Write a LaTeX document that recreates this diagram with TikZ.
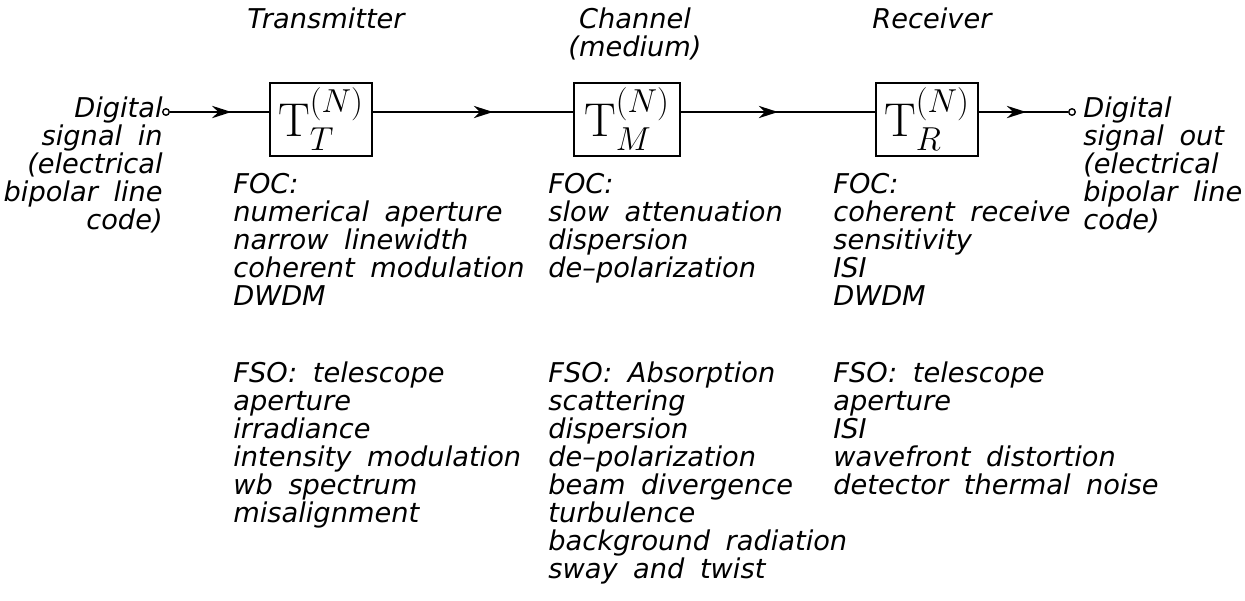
\documentclass[tikz,border=0pt]{standalone}
\usepackage{fix-cm}
\usepackage{amsmath}
\usepackage[no-math]{fontspec}
\newfontfamily\cadfont{DejaVu Sans}[WordSpace=1.8,ItalicFont={DejaVu Sans Oblique}]
\usetikzlibrary{arrows.meta,decorations.markings}
\newcommand{\tfun}[1]{\fontsize{27}{30}\selectfont$\mathrm{T}_{#1}^{(N)}$}

\tikzset{
  blk/.style={draw,line width=1.1pt,minimum width=2.04cm,minimum height=1.46cm,inner sep=0pt,text depth=0.3cm},
  lbl/.style={font=\cadfont\itshape\fontsize{15.5}{15.94}\selectfont,inner sep=0pt},
  sig/.style={line width=1.1pt},
  midarrow/.style={postaction={decorate},decoration={markings,mark=at position #1 with {\arrow{Stealth[length=11pt,width=7pt]}}}},
  port/.style={circle,draw,line width=0.8pt,fill=white,inner sep=0pt,minimum size=0.13cm}
}

\begin{document}
\begin{tikzpicture}[x=0.02cm,y=-0.02cm]
    \useasboundingbox (0,0) rectangle (1245,600);
    % blocks
    \node[blk] (tx) at (321,119.5) {\tfun{T}};
    \node[blk,minimum width=2.12cm] (ch) at (627,119.5) {\tfun{M}};
    \node[blk] (rx) at (927,119.5) {\tfun{R}};

    % signal path
    \node[port] (in) at (166,112) {};
    \node[port] (out) at (1072,112) {};
    \draw[sig,midarrow=0.62] (in) -- (in -| tx.west);
    \draw[sig,midarrow=0.6] (in -| tx.east) -- (in -| ch.west);
    \draw[sig,midarrow=0.5] (in -| ch.east) -- (in -| rx.west);
    \draw[sig,midarrow=0.53] (in -| rx.east) -- (out);

    % headings
    \node[lbl,anchor=base] (txhead) at (326,28) {Transmitter};
    \node[lbl,anchor=north,align=center] (chhead) at (635,7) {Channel\\(medium)};
    \node[lbl,anchor=base] (rxhead) at (932,28) {Receiver};

    % input and output
    \node[lbl,anchor=north east,align=right] (sigin) at (163,96) {Digital\\signal in\\(electrical\\bipolar line\\code)};
    \node[lbl,anchor=north west,align=left] (sigout) at (1083,96) {Digital\\signal out\\(electrical\\bipolar line\\code)};

    % text
    \node[lbl,anchor=north west,align=left] (txfoc) at (233,173) {FOC:\\numerical aperture\\narrow linewidth\\coherent modulation\\DWDM};
    \node[lbl,anchor=north west,align=left] (txfso) at (233,361) {FSO: telescope\\aperture\\irradiance\\intensity modulation\\wb spectrum\\misalignment};
    \node[lbl,anchor=north west,align=left] (chfoc) at (548,173) {FOC:\\slow attenuation\\dispersion\\de–polarization};
    \node[lbl,anchor=north west,align=left] (chfso) at (548,361) {FSO: Absorption\\scattering\\dispersion\\de–polarization\\beam divergence\\turbulence\\background radiation\\sway and twist};
    \node[lbl,anchor=north west,align=left] (rxfoc) at (833,173) {FOC:\\coherent receive\\sensitivity\\ISI\\DWDM};
    \node[lbl,anchor=north west,align=left] (rxfso) at (833,361) {FSO: telescope\\aperture\\ISI\\wavefront distortion\\detector thermal noise};
\end{tikzpicture}
\end{document}
